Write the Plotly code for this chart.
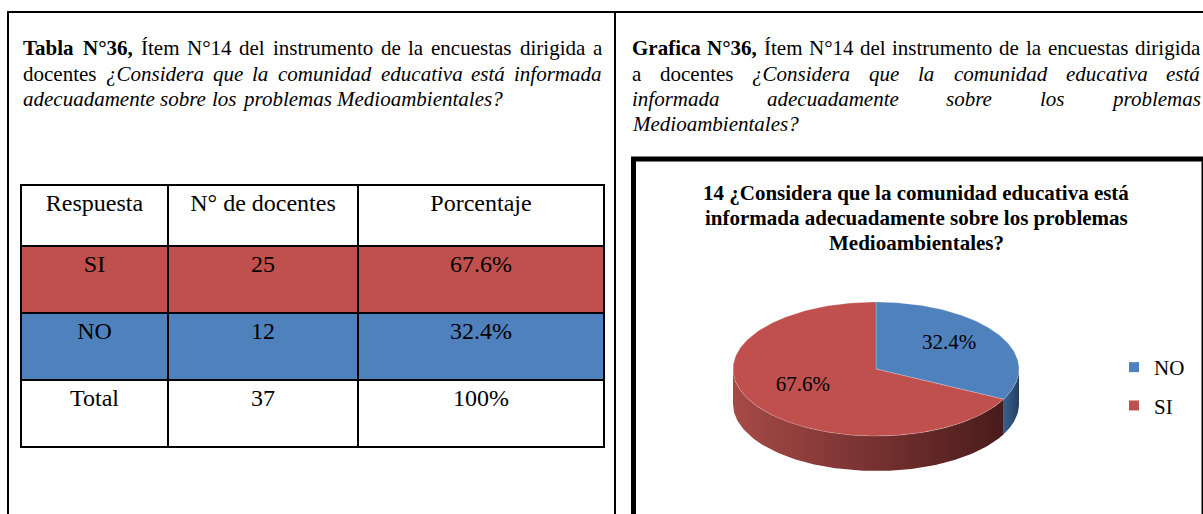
import numpy as np
import plotly.graph_objects as go

W, H = 1203, 514

# ---------------- data ----------------
respuestas = ["SI", "NO"]
docentes = [25, 12]
colores = {"SI": "#c0504d", "NO": "#4f81bd"}
side_colores = {"SI": ["#a64a47", "#491b1b"], "NO": ["#3a5f8c", "#24405f"]}
header_labels = ["Respuesta", "N° de docentes", "Porcentaje"]
total_label = "Total"
pie_order = ["NO", "SI"]          # order in which the pie slices / legend are drawn
chart_title_lines = [
    "14 ¿Considera que la comunidad educativa está",
    "informada adecuadamente sobre los problemas",
    "Medioambientales?",
]

total = sum(docentes)
pct = {r: 100.0 * d / total for r, d in zip(respuestas, docentes)}

SERIF = "Liberation Serif"

# ---------------- Times metrics for justification ----------------
REG = dict(zip("ABCDEFGHIJKLMNOPQRSTUVWXYZ",
               [722, 667, 667, 722, 611, 556, 722, 722, 333, 389, 722, 611, 889, 722, 722, 556, 722, 667, 556, 611, 722, 722, 944, 722, 722, 611]))
REG.update(zip("abcdefghijklmnopqrstuvwxyz",
               [444, 500, 444, 500, 444, 333, 500, 500, 278, 278, 500, 278, 778, 500, 500, 500, 500, 333, 389, 278, 500, 500, 722, 500, 500, 444]))
REG.update({" ": 250, ",": 250, ".": 250, "?": 444, "¿": 444, "°": 400, "Í": 333, "á": 444, "é": 444, "%": 833})
ITA = dict(zip("ABCDEFGHIJKLMNOPQRSTUVWXYZ",
               [611, 611, 667, 722, 611, 611, 722, 722, 333, 444, 667, 556, 833, 667, 722, 611, 722, 611, 500, 556, 722, 611, 833, 611, 556, 556]))
ITA.update(zip("abcdefghijklmnopqrstuvwxyz",
               [500, 500, 444, 500, 444, 278, 500, 500, 278, 278, 444, 278, 722, 500, 500, 500, 500, 389, 389, 278, 500, 444, 667, 444, 444, 389]))
ITA.update({" ": 250, ",": 250, ".": 250, "?": 500, "¿": 500, "á": 500, "é": 444})
BOL = dict(zip("ABCDEFGHIJKLMNOPQRSTUVWXYZ",
               [722, 667, 722, 722, 667, 611, 778, 778, 389, 500, 778, 667, 944, 722, 778, 611, 778, 722, 556, 667, 722, 722, 1000, 722, 722, 667]))
BOL.update(zip("abcdefghijklmnopqrstuvwxyz",
               [500, 556, 444, 556, 444, 333, 500, 556, 278, 333, 556, 278, 833, 556, 500, 556, 556, 444, 389, 333, 556, 500, 722, 500, 500, 444]))
BOL.update({" ": 250, ",": 250, ".": 250, "?": 500, "¿": 500, "°": 400, "á": 500})
for t in (REG, ITA, BOL):
    for d in "0123456789":
        t[d] = 500
TABLES = {"r": REG, "i": ITA, "b": BOL}


def word_width(word, style, size):
    tab = TABLES[style]
    return sum(tab.get(ch, 500) for ch in word) * size / 1000.0


def wrap(word, style):
    if style == "b":
        return "<b>%s</b>" % word
    if style == "i":
        return "<i>%s</i>" % word
    return word


PSIZE = 21
annotations = []


def add_line(runs, x0, x1, y, justify=True):
    words = []
    for text, style in runs:
        for w in text.split():
            words.append((w, style))
    widths = [word_width(w, s, PSIZE) for w, s in words]
    if justify and len(words) > 1:
        gap = (x1 - x0 - sum(widths)) / (len(words) - 1)
    else:
        gap = 0.25 * PSIZE
    x = x0
    for (w, s), wd in zip(words, widths):
        annotations.append(dict(x=x, y=y, xref="x", yref="y", text=wrap(w, s),
                                xanchor="left", yanchor="middle", showarrow=False,
                                borderpad=0, font=dict(family=SERIF, size=PSIZE, color="black")))
        x += wd + gap


# left paragraph
LX0, LX1 = 22, 601
add_line([("Tabla N°36,", "b"), ("Ítem N°14 del instrumento de la encuestas dirigida a", "r")], LX0, LX1, 48)
add_line([("docentes", "r"), ("¿Considera que la comunidad educativa está informada", "i")], LX0, LX1, 74)
add_line([("adecuadamente sobre los problemas Medioambientales?", "i")], LX0, LX1, 99, justify=False)
# right paragraph
RX0, RX1 = 631, 1199
add_line([("Grafica N°36,", "b"), ("Ítem N°14 del instrumento de la encuestas dirigida", "r")], RX0, RX1, 48)
add_line([("a docentes", "r"), ("¿Considera que la comunidad educativa está", "i")], RX0, RX1, 74)
add_line([("informada adecuadamente sobre los problemas", "i")], RX0, RX1, 99)
add_line([("Medioambientales?", "i")], RX0, RX1, 124, justify=False)

# chart title
for i, line in enumerate(chart_title_lines):
    annotations.append(dict(x=916, y=193 + 25 * i, xref="x", yref="y", text="<b>%s</b>" % line,
                            xanchor="center", yanchor="middle", showarrow=False, borderpad=0,
                            font=dict(family=SERIF, size=21, color="black")))

fig = go.Figure()

# ---------------- table ----------------
col1 = respuestas + [total_label]
col2 = [str(d) for d in docentes] + [str(total)]
col3 = ["%.1f%%" % pct[r] for r in respuestas] + ["100%"]
row_fill = [colores[r] for r in respuestas] + ["white"]
fig.add_trace(go.Table(
    domain=dict(x=[21 / W, 604 / W], y=[0, 1 - 185 / H]),
    columnwidth=[147, 190, 246],
    header=dict(values=header_labels, height=61, align="center",
                fill=dict(color="white"), line=dict(color="black", width=2),
                font=dict(family=SERIF, size=24, color="black")),
    cells=dict(values=[col1, col2, col3], height=67, align="center",
               fill=dict(color=[row_fill, row_fill, row_fill]),
               line=dict(color="black", width=2),
               font=dict(family=SERIF, size=24, color="black")),
))

# ---------------- 3D-looking pie (ellipse geometry from values) ----------------
CX, CY, RXE, RYE, DEPTH = 876, 369, 143, 67, 35


def ell(phi_deg, dy=0.0):
    p = np.radians(phi_deg)
    return CX + RXE * np.cos(p), CY - RYE * np.sin(p) + dy


slices = []
start = 90.0
for r in pie_order:
    sweep = 360.0 * pct[r] / 100.0
    slices.append((r, start, start - sweep))
    start -= sweep

# side walls (visible front half: angles -180..0)
for r, a0, a1 in slices:
    if a0 <= -180 or a1 >= 0:
        continue
    hi = min(a0, 0.0)
    lo = max(a1, -180.0)
    angs = np.linspace(hi, lo, 120)
    tx, ty = ell(angs)
    bx, by = ell(angs[::-1], DEPTH)
    xs = np.concatenate([tx, bx, tx[:1]])
    ys = np.concatenate([ty, by, ty[:1]])
    fig.add_trace(go.Scatter(x=xs, y=ys, mode="lines", fill="toself", line=dict(width=0),
                             fillgradient=dict(type="horizontal",
                                               colorscale=[[0, side_colores[r][0]], [1, side_colores[r][1]]]),
                             hoverinfo="skip", showlegend=False))

# top faces
for r, a0, a1 in slices:
    angs = np.linspace(a0, a1, 200)
    ax, ay = ell(angs)
    xs = np.concatenate([[CX], ax, [CX]])
    ys = np.concatenate([[CY], ay, [CY]])
    fig.add_trace(go.Scatter(x=xs, y=ys, mode="lines", fill="toself",
                             fillcolor=colores[r], line=dict(width=0.6, color="rgba(255,255,255,0.35)"),
                             hoverinfo="skip", showlegend=False))

# data labels at mid-angle of each slice
lx, ly, lt = [], [], []
for r, a0, a1 in slices:
    mid = (a0 + a1) / 2.0
    x, y = ell(mid)
    lx.append(CX + 0.6 * (x - CX))
    ly.append(CY + 0.6 * (y - CY) - 4)
    lt.append("%.1f%%" % pct[r])
fig.add_trace(go.Scatter(x=lx, y=ly, mode="text", text=lt, textposition="middle center",
                         textfont=dict(family=SERIF, size=21, color="black"),
                         hoverinfo="skip", showlegend=False))

# legend entries
for i, r in enumerate(pie_order):
    fig.add_trace(go.Scatter(x=[None], y=[None], mode="markers", name=r, legendgroup=r,
                             marker=dict(symbol="square", size=10, color=colores[r])))

shapes = [
    dict(type="line", xref="x", yref="y", x0=8, x1=W + 2, y0=12, y1=12, line=dict(color="black", width=2)),
    dict(type="line", xref="x", yref="y", x0=8, x1=8, y0=11, y1=H + 5, line=dict(color="black", width=2)),
    dict(type="line", xref="x", yref="y", x0=615, x1=615, y0=11, y1=H + 5, line=dict(color="black", width=2)),
    dict(type="rect", xref="x", yref="y", x0=633.5, x1=W + 1, y0=159, y1=H + 20,
         line=dict(color="black", width=5)),
]

fig.update_layout(
    width=W, height=H, margin=dict(l=0, r=0, t=0, b=0),
    paper_bgcolor="white", plot_bgcolor="rgba(0,0,0,0)",
    xaxis=dict(range=[0, W], visible=False, fixedrange=True),
    yaxis=dict(range=[H, 0], visible=False, fixedrange=True),
    showlegend=True,
    legend=dict(x=1114 / W, y=1 - 347 / H, xanchor="left", yanchor="top",
                traceorder="grouped", tracegroupgap=8, bgcolor="rgba(0,0,0,0)",
                font=dict(family=SERIF, size=21, color="black"), itemclick=False),
    annotations=annotations,
    shapes=shapes,
)

fig.write_html("out.html", config={"displayModeBar": False},
               post_script="document.body.style.margin='0';document.body.style.overflow='hidden';")
